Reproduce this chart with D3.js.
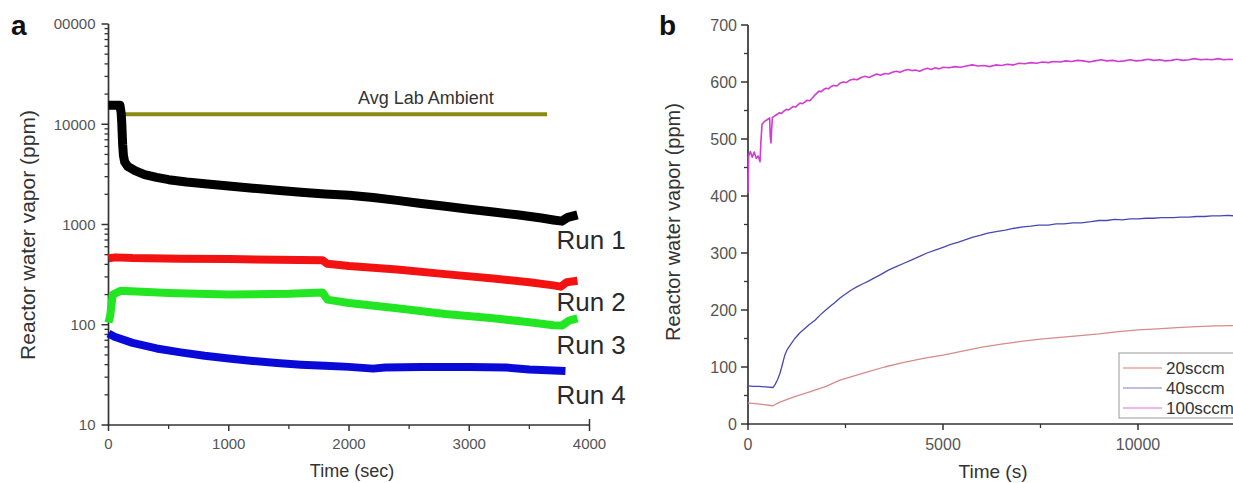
<!DOCTYPE html>
<html><head><meta charset="utf-8">
<script src="https://cdn.jsdelivr.net/npm/d3@7"></script>
<style>
body{margin:0;background:#fff;overflow:hidden}
svg{display:block}
text{font-family:"Liberation Sans",Arial,sans-serif}
</style>
</head><body>
<svg id="c" width="1233" height="483"></svg>
<script>
// ---------- Panel a data (time s, ppm) ----------
const run1 = [[0,15500],[95,15500],[105,13000],[110,10500],[114,8000],[118,6200],[124,4900],[135,4200],[160,3800],[220,3450],[300,3150],[400,2950],[500,2800],[650,2650],[800,2550],[1000,2420],[1200,2300],[1400,2200],[1600,2100],[1800,2020],[2000,1960],[2200,1860],[2400,1740],[2600,1620],[2800,1520],[3000,1420],[3200,1330],[3400,1250],[3600,1160],[3700,1110],[3770,1080],[3820,1180],[3900,1250]];
const run2 = [[0,460],[60,470],[200,462],[600,456],[1000,452],[1400,446],[1780,440],[1820,405],[2000,385],[2400,355],[2800,320],[3200,290],[3500,265],[3700,247],[3760,240],[3810,265],[3900,275]];
const run3 = [[0,105],[15,125],[35,200],[100,218],[500,207],[1000,200],[1500,204],[1780,210],[1820,178],[2000,165],[2400,146],[2800,128],[3200,116],[3500,106],[3700,99],[3770,98],[3830,110],[3900,116]];
const run4 = [[0,82],[50,76],[200,66],[400,58],[600,53],[800,49],[1000,46],[1200,43.5],[1400,41.5],[1600,40],[1800,39],[2000,38],[2200,36.5],[2300,37.5],[2600,38],[3000,38],[3300,37.5],[3500,35.8],[3800,34.5]];
const ambient = [[137,12600],[3647,12600]];
const runLabels = ["Run 1","Run 2","Run 3","Run 4"];
const ambientLabel = "Avg Lab Ambient";
const aXTicks = [0,1000,2000,3000,4000];
const aXMinor = [500,1500,2500,3500];
const aYTicks = [10,100,1000,10000,100000];

// ---------- Panel b data (time s, ppm) ----------
const sccm20 = [[0,37],[300,35],[641,32],[800,38],[1200,48],[1600,57],[2000,66],[2359,77],[3000,90],[3500,100],[4000,108],[4500,115],[5000,121],[5500,128],[6000,135],[6500,140],[7000,145],[7500,149],[8000,152],[8513,155],[9000,158],[9500,162],[10000,165],[10500,167],[11000,169],[11500,171],[12000,172],[12700,173]];
const sccm40 = [[0,67],[150,66],[300,66],[450,65],[641,64],[700,70],[760,78],[820,89],[880,104],[940,120],[1000,130],[1100,140],[1200,150],[1333,160],[1450,167],[1580,175],[1718,182],[1846,191],[1980,199],[2100,206],[2230,213],[2359,221],[2500,228],[2650,235],[2800,241],[2950,246],[3100,251],[3205,255],[3400,262],[3600,270],[3800,276],[4000,282],[4200,288],[4400,294],[4590,300],[4800,305],[5000,310],[5200,315],[5400,319],[5600,324],[5769,328],[5950,331],[6150,335],[6400,338],[6600,340],[6800,343],[7051,346],[7250,347],[7450,349],[7700,349],[7900,351],[8100,351],[8333,353],[8550,353],[8800,355],[9000,357],[9205,357],[9400,359],[9600,358],[9800,360],[10000,360],[10200,361],[10400,361],[10600,362],[10897,362],[11100,363],[11300,363],[11500,364],[11700,364],[11900,365],[12100,365],[12300,366],[12500,365],[12700,367]];
const sccm100 = [[0,405],[15,470],[60,478],[110,468],[160,477],[210,466],[260,470],[308,460],[330,495],[360,526],[410,530],[470,533],[520,535],[555,537],[570,505],[590,493],[605,515],[625,538],[680,540],[740,543],[800,546],[860,545],[920,549],[980,552],[1040,551],[1100,554],[1160,557],[1220,556],[1280,560],[1333,563],[1400,562],[1460,565],[1520,568],[1580,567],[1640,571],[1700,576],[1760,580],[1820,584],[1880,583],[1940,587],[2000,589],[2060,588],[2130,592],[2200,594],[2280,593],[2359,598],[2440,600],[2520,599],[2600,603],[2700,605],[2800,604],[2900,608],[3000,610],[3100,608],[3200,611],[3300,614],[3400,612],[3500,615],[3600,614],[3700,617],[3800,619],[3900,617],[4000,620],[4100,622],[4200,620],[4300,621],[4400,619],[4500,622],[4600,624],[4700,622],[4800,625],[4900,623],[5000,626],[5150,625],[5300,627],[5450,626],[5600,628],[5750,630],[5900,628],[6050,629],[6200,627],[6350,630],[6500,629],[6650,631],[6800,630],[6950,633],[7100,632],[7250,634],[7400,633],[7550,635],[7700,634],[7850,636],[8000,635],[8150,637],[8300,636],[8450,638],[8600,637],[8750,635],[8900,637],[9050,639],[9200,637],[9350,638],[9500,636],[9650,637],[9800,639],[9950,637],[10100,638],[10250,640],[10400,638],[10550,639],[10700,637],[10850,638],[11000,640],[11150,638],[11300,639],[11450,641],[11600,639],[11750,640],[11900,639],[12050,641],[12200,639],[12350,640],[12500,639],[12700,640]];
const legendNames = ["20sccm","40sccm","100sccm"];
const bXTicks = [0,5000,10000];
const bXMinor = [2500,7500,12500];
const bYTicks = [0,100,200,300,400,500,600,700];
const bYMinor = [50,150,250,350,450,550,650];

const svg = d3.select("#c");
const axisColor = "#333", labelColor = "#555";
const FONT = '"Liberation Sans",Arial,sans-serif';

// Generic axis drawer driven by D3 scales
function drawYAxis(y, x0, majors, minors, fmt, fs, lblGap, clipLeft){
  const g = svg.append("g");
  const r = y.range();
  g.append("line").attr("x1",x0).attr("x2",x0).attr("y1",r[0]+0.8).attr("y2",r[1])
    .attr("stroke",axisColor).attr("stroke-width",1.7);
  g.selectAll("line.minor").data(minors).join("line").attr("class","minor")
    .attr("x1",x0-4).attr("x2",x0).attr("y1",d=>y(d)).attr("y2",d=>y(d))
    .attr("stroke",axisColor).attr("stroke-width",1.3);
  g.selectAll("line.major").data(majors).join("line").attr("class","major")
    .attr("x1",x0-7).attr("x2",x0).attr("y1",d=>y(d)).attr("y2",d=>y(d))
    .attr("stroke",axisColor).attr("stroke-width",1.5);
  const t = g.append("g");
  if (clipLeft) t.attr("clip-path","url(#clipA)");
  t.selectAll("text").data(majors).join("text")
    .attr("x",x0-lblGap).attr("y",d=>y(d)).attr("dy","0.36em").attr("text-anchor","end")
    .attr("font-size",fs).attr("font-family",FONT).attr("fill",labelColor).text(fmt);
}
function drawXAxis(x, y0, majors, minors, fmt, fs, xEnd, lblY){
  const g = svg.append("g");
  g.append("line").attr("x1",x.range()[0]-1).attr("x2",xEnd).attr("y1",y0).attr("y2",y0)
    .attr("stroke",axisColor).attr("stroke-width",1.7);
  g.selectAll("line.minor").data(minors).join("line").attr("class","minor")
    .attr("x1",d=>x(d)).attr("x2",d=>x(d)).attr("y1",y0).attr("y2",y0+4)
    .attr("stroke",axisColor).attr("stroke-width",1.3);
  g.selectAll("line.major").data(majors).join("line").attr("class","major")
    .attr("x1",d=>x(d)).attr("x2",d=>x(d)).attr("y1",y0).attr("y2",y0+6)
    .attr("stroke",axisColor).attr("stroke-width",1.5);
  g.selectAll("text").data(majors).join("text")
    .attr("x",d=>x(d)).attr("y",lblY).attr("text-anchor","middle")
    .attr("font-size",fs).attr("font-family",FONT).attr("fill",labelColor).text(fmt);
}

// ================= Panel a =================
const xA = d3.scaleLinear().domain([0,4000]).range([108.5,589.5]);
const yA = d3.scaleLog().domain([10,100000]).range([425,24]);

const aYMinor = [];
[10,100,1000,10000].forEach(d => { for (let k=2;k<=9;k++) aYMinor.push(d*k); });

svg.append("defs").append("clipPath").attr("id","clipA")
  .append("rect").attr("x",53.5).attr("y",0).attr("width",600).attr("height",483);

drawYAxis(yA, 108.5, aYTicks, aYMinor, d3.format("d"), 15, 13, true);
drawXAxis(xA, 425, aXTicks, aXMinor, d3.format("d"), 15, xA(4000), 449);
svg.append("line").attr("x1",xA(4000)).attr("x2",xA(4000)).attr("y1",425).attr("y2",419)
  .attr("stroke",axisColor).attr("stroke-width",1.5);

const lineA = d3.line().x(d=>xA(d[0])).y(d=>yA(d[1]));
svg.append("path").datum(ambient).attr("d",lineA).attr("fill","none").attr("stroke","#8a8a12").attr("stroke-width",4);
const runs = [run1,run2,run3,run4];
const runColors = ["#000000","#f21212","#22e622","#0a0ad8"];
const runWidths = [9,8,8,8];
runs.forEach((r,i)=>{
  svg.append("path").datum(r).attr("d",lineA).attr("fill","none")
    .attr("stroke",runColors[i]).attr("stroke-width",runWidths[i]).attr("stroke-linejoin","round");
});

svg.append("text").attr("x",xA(2075)).attr("y",104).attr("font-size",18).attr("fill","#333").text(ambientLabel);
const runLabelY = [249,311,354,404];
runLabels.forEach((t,i)=>{
  svg.append("text").attr("x",xA(3725)).attr("y",runLabelY[i]).attr("font-size",26).attr("fill","#2a2a2a").text(t);
});

svg.append("text").attr("x",352).attr("y",477).attr("text-anchor","middle").attr("font-size",18).attr("fill","#333").text("Time (sec)");
svg.append("text").attr("transform","translate(35,235) rotate(-90)").attr("text-anchor","middle")
  .attr("font-size",21).attr("fill","#333").text("Reactor water vapor (ppm)");
svg.append("text").attr("x",11).attr("y",35).attr("font-size",28).attr("font-weight","bold").attr("fill","#111").text("a");

// ================= Panel b =================
const xB = d3.scaleLinear().domain([0,15000]).range([748,1333]);
const yB = d3.scaleLinear().domain([0,700]).range([424,25]);

drawYAxis(yB, 748, bYTicks, bYMinor, d3.format("d"), 16, 11, false);
drawXAxis(xB, 424, bXTicks, bXMinor, d3.format("d"), 16, 1240, 450);

const lineB = d3.line().x(d=>xB(d[0])).y(d=>yB(d[1]));
const bSeries = [sccm20,sccm40,sccm100];
const bColors = ["#d98a8a","#4848b4","#d23cd2"];
bSeries.forEach((s,i)=>{
  svg.append("path").datum(s).attr("d",lineB).attr("fill","none")
    .attr("stroke",bColors[i]).attr("stroke-width",i===2?1.6:1.3).attr("stroke-linejoin","round");
});

// legend
const lg = svg.append("g").attr("transform","translate(1119,353)");
lg.append("rect").attr("x",0).attr("y",0).attr("width",140).attr("height",65)
  .attr("fill","#fff").attr("stroke","#999").attr("stroke-width",1);
const legColors = ["#e8a4a4","#a8a8dc","#e4a4e4"];
legendNames.forEach((n,i)=>{
  const yy = 15 + i*20;
  lg.append("line").attr("x1",4).attr("x2",43).attr("y1",yy).attr("y2",yy).attr("stroke",legColors[i]).attr("stroke-width",1.5);
  lg.append("text").attr("x",47).attr("y",yy+6).attr("font-size",17).attr("fill","#333").text(n);
});

svg.append("text").attr("x",993).attr("y",478).attr("text-anchor","middle").attr("font-size",19).attr("fill","#333").text("Time (s)");
svg.append("text").attr("transform","translate(680,222) rotate(-90)").attr("text-anchor","middle")
  .attr("font-size",20).attr("fill","#333").text("Reactor water vapor (ppm)");
svg.append("text").attr("x",659).attr("y",35).attr("font-size",28).attr("font-weight","bold").attr("fill","#111").text("b");
</script>
</body></html>
